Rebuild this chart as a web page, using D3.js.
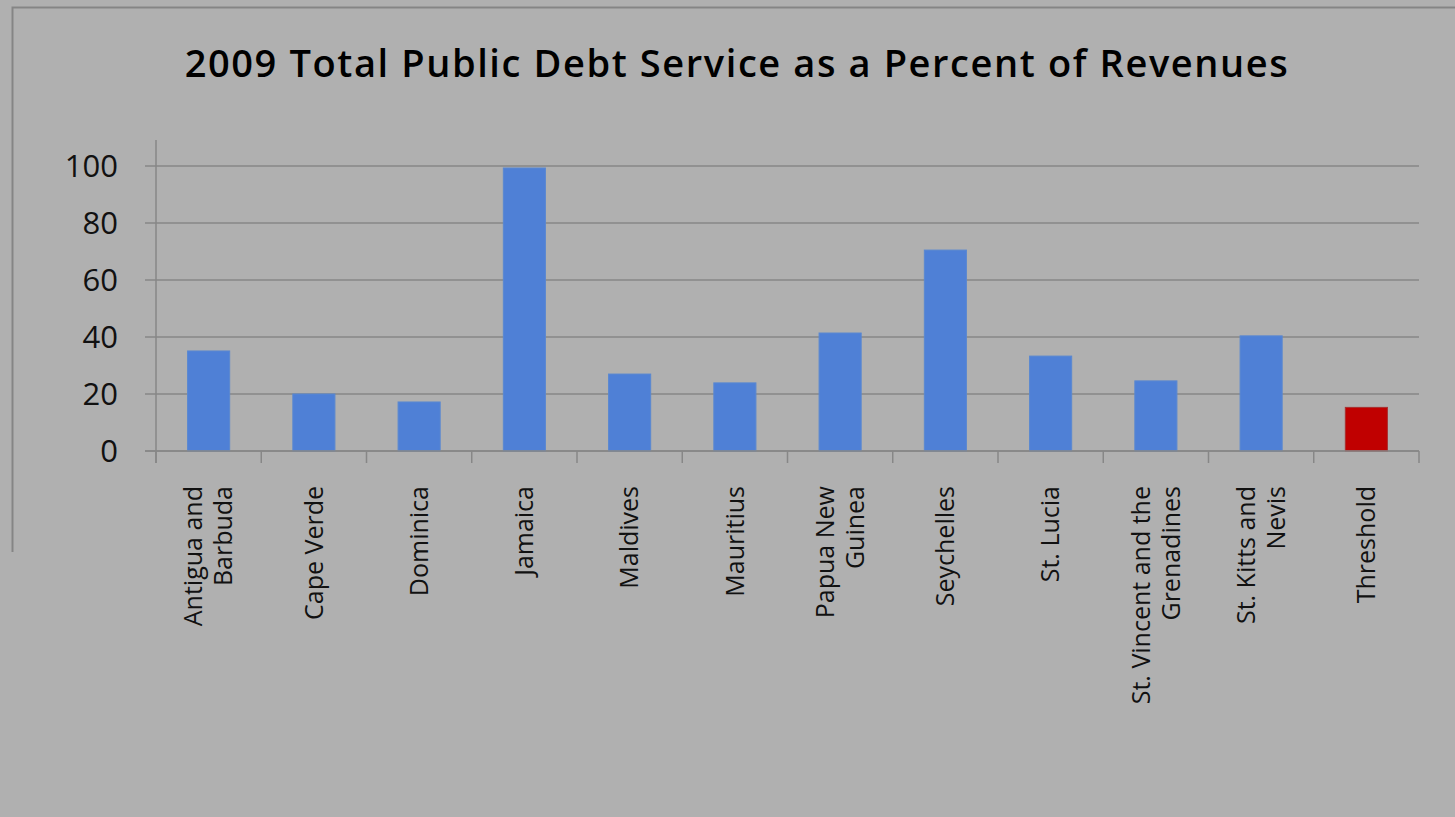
<!DOCTYPE html>
<html>
<head>
<meta charset="utf-8">
<script src="https://cdn.jsdelivr.net/npm/d3@7"></script>
<style>
  html, body { margin: 0; padding: 0; background: #b0b0b0; }
  svg { display: block; }
</style>
</head>
<body>
<svg id="chart" width="1455" height="817"></svg>
<script>
const title = "2009 Total Public Debt Service as a Percent of Revenues";
const categories = [
  "Antigua and Barbuda", "Cape Verde", "Dominica", "Jamaica", "Maldives", "Mauritius",
  "Papua New Guinea", "Seychelles", "St. Lucia", "St. Vincent and the Grenadines",
  "St. Kitts and Nevis", "Threshold"
];
const labelLines = [
  ["Antigua and", "Barbuda"], ["Cape Verde"], ["Dominica"], ["Jamaica"], ["Maldives"], ["Mauritius"],
  ["Papua New", "Guinea"], ["Seychelles"], ["St. Lucia"], ["St. Vincent and the", "Grenadines"],
  ["St. Kitts and", "Nevis"], ["Threshold"]
];
const values = [35.1, 20.0, 17.2, 99.3, 27.0, 23.9, 41.4, 70.5, 33.3, 24.6, 40.4, 15.3];
const isThreshold = [false, false, false, false, false, false, false, false, false, false, false, true];
const yTicks = [0, 20, 40, 60, 80, 100];

const svg = d3.select("#chart");
const W = 1455, H = 817;
const plot = { left: 156, right: 1419, top: 166, bottom: 451 };

svg.append("rect").attr("width", W).attr("height", H).attr("fill", "#b0b0b0");

// outer chart border (partially visible)
svg.append("path")
  .attr("d", `M12.5,552 L12.5,7.5 L${W},7.5`)
  .attr("fill", "none").attr("stroke", "#858585").attr("stroke-width", 2);

// title
svg.append("text")
  .attr("x", 737).attr("y", 77)
  .attr("text-anchor", "middle")
  .attr("font-family", "'Open Sans', sans-serif")
  .attr("font-weight", 600)
  .attr("font-size", 38)
  .attr("letter-spacing", "1.6px")
  .attr("fill", "#000")
  .text(title);

const x = d3.scaleBand().domain(categories).range([plot.left, plot.right]).padding(0);
const y = d3.scaleLinear().domain([0, 100]).range([plot.bottom, plot.top]);

// gridlines
svg.append("g").selectAll("line").data(yTicks).join("line")
  .attr("x1", plot.left - 11).attr("x2", plot.right)
  .attr("y1", d => y(d)).attr("y2", d => y(d))
  .attr("stroke", "#878787").attr("stroke-width", 1.5);

// y axis line
svg.append("line")
  .attr("x1", plot.left).attr("x2", plot.left)
  .attr("y1", 140).attr("y2", plot.bottom + 12)
  .attr("stroke", "#878787").attr("stroke-width", 1.5);

// y tick labels
svg.append("g").selectAll("text").data(yTicks).join("text")
  .attr("x", 118).attr("y", d => y(d))
  .attr("dy", "0.36em")
  .attr("text-anchor", "end")
  .attr("font-family", "'Open Sans', sans-serif")
  .attr("font-size", 31)
  .attr("fill", "#111")
  .text(d => d);

// x tick marks at band edges
const edges = categories.map(c => x(c)).concat([plot.right]);
svg.append("g").selectAll("line").data(edges).join("line")
  .attr("x1", d => d).attr("x2", d => d)
  .attr("y1", plot.bottom).attr("y2", plot.bottom + 12)
  .attr("stroke", "#878787").attr("stroke-width", 1.5);

// bars
const barW = x.bandwidth() * 0.4;
svg.append("g").selectAll("rect").data(categories).join("rect")
  .attr("x", c => x(c) + (x.bandwidth() - barW) / 2)
  .attr("width", barW)
  .attr("y", (c, i) => y(values[i]))
  .attr("height", (c, i) => y(0) - y(values[i]))
  .attr("fill", (c, i) => isThreshold[i] ? "#c00000" : "#4f80d6")
  .attr("stroke", (c, i) => isThreshold[i] ? "#a83030" : "#5a88d0")
  .attr("stroke-width", 1);

// x axis line
svg.append("line")
  .attr("x1", plot.left - 11).attr("x2", plot.right)
  .attr("y1", plot.bottom).attr("y2", plot.bottom)
  .attr("stroke", "#878787").attr("stroke-width", 1.5);

// rotated category labels
const lh = 30;
const lg = svg.append("g");
categories.forEach((c, i) => {
  const lines = labelLines[i];
  const cx = x(c) + x.bandwidth() / 2;
  const n = lines.length;
  lines.forEach((ln, j) => {
    const off = (j - (n - 1) / 2) * lh;
    lg.append("text")
      .attr("transform", `translate(${cx + off},486) rotate(-90)`)
      .attr("text-anchor", "end")
      .attr("dy", "0.35em")
      .attr("font-family", "'Open Sans', sans-serif")
      .attr("font-size", 25)
      .attr("fill", "#111")
      .text(ln);
  });
});
</script>
</body>
</html>
